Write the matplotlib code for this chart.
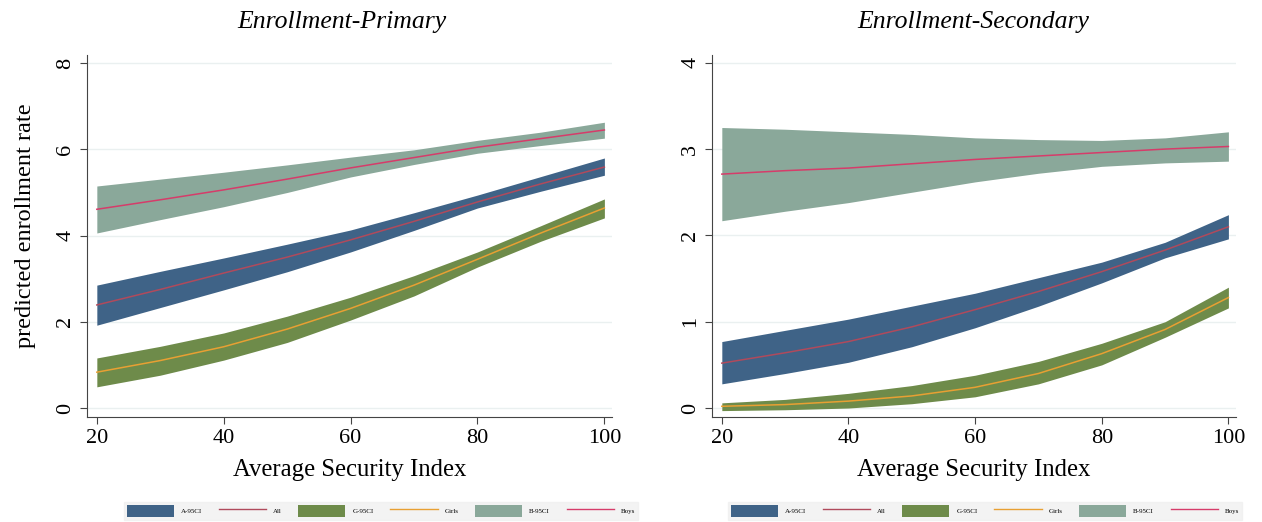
import numpy as np
import matplotlib
matplotlib.use("Agg")
import matplotlib.pyplot as plt
from matplotlib.patches import Patch
from matplotlib.lines import Line2D

plt.rcParams['font.family'] = ['Liberation Serif', 'DejaVu Serif']

# security index grid
x = [20, 30, 40, 50, 60, 70, 80, 90, 100]

# Primary enrollment: predicted values and 95% CI
prim_all = [2.39, 2.75, 3.13, 3.50, 3.90, 4.33, 4.78, 5.20, 5.59]
prim_all_hi = [2.85, 3.17, 3.48, 3.80, 4.13, 4.53, 4.94, 5.37, 5.80]
prim_all_lo = [1.92, 2.33, 2.74, 3.16, 3.62, 4.12, 4.64, 5.03, 5.40]
prim_girls = [0.83, 1.10, 1.42, 1.83, 2.31, 2.85, 3.45, 4.06, 4.64]
prim_girls_hi = [1.16, 1.43, 1.74, 2.13, 2.57, 3.07, 3.62, 4.23, 4.85]
prim_girls_lo = [0.49, 0.76, 1.11, 1.52, 2.04, 2.60, 3.27, 3.87, 4.41]
prim_boys = [4.61, 4.83, 5.06, 5.31, 5.57, 5.81, 6.05, 6.25, 6.45]
prim_boys_hi = [5.15, 5.31, 5.47, 5.64, 5.82, 5.99, 6.21, 6.40, 6.63]
prim_boys_lo = [4.06, 4.37, 4.67, 5.00, 5.36, 5.65, 5.91, 6.09, 6.26]

# Secondary enrollment
sec_all = [0.52, 0.64, 0.77, 0.94, 1.14, 1.35, 1.58, 1.83, 2.10]
sec_all_hi = [0.77, 0.90, 1.03, 1.18, 1.33, 1.51, 1.69, 1.92, 2.24]
sec_all_lo = [0.28, 0.40, 0.53, 0.71, 0.93, 1.18, 1.45, 1.74, 1.96]
sec_girls = [0.02, 0.04, 0.08, 0.14, 0.24, 0.40, 0.63, 0.91, 1.28]
sec_girls_hi = [0.06, 0.10, 0.17, 0.26, 0.38, 0.54, 0.75, 1.00, 1.40]
sec_girls_lo = [-0.03, -0.02, 0.00, 0.05, 0.13, 0.28, 0.50, 0.82, 1.16]
sec_boys = [2.71, 2.75, 2.78, 2.83, 2.88, 2.92, 2.96, 3.00, 3.03]
sec_boys_hi = [3.25, 3.23, 3.20, 3.17, 3.13, 3.11, 3.10, 3.13, 3.20]
sec_boys_lo = [2.17, 2.28, 2.38, 2.50, 2.62, 2.72, 2.80, 2.84, 2.86]

legend_labels = ['A-95CI', 'All', 'G-95CI', 'Girls', 'B-95CI', 'Boys']

c_all = '#3f6387'
c_girls = '#6e8b4a'
c_boys = '#8aa89a'
l_all = '#b04a5c'
l_girls = '#e8a033'
l_boys = '#d63c6a'

W, H = 1262, 522
fig = plt.figure(figsize=(W/100, H/100), dpi=100)
ax1 = fig.add_axes([87/W, 1-417/H, (612-87)/W, (417-55)/H])
ax2 = fig.add_axes([712/W, 1-417/H, (1236-712)/W, (417-55)/H])

panels = [
    (ax1, 'Enrollment-Primary', 342,
     (prim_all, prim_all_lo, prim_all_hi),
     (prim_girls, prim_girls_lo, prim_girls_hi),
     (prim_boys, prim_boys_lo, prim_boys_hi),
     [0, 2, 4, 6, 8], (-0.21, 8.19), 381),
    (ax2, 'Enrollment-Secondary', 973,
     (sec_all, sec_all_lo, sec_all_hi),
     (sec_girls, sec_girls_lo, sec_girls_hi),
     (sec_boys, sec_boys_lo, sec_boys_hi),
     [0, 1, 2, 3, 4], (-0.104, 4.09), 985),
]

for ax, title, tx, a, g, b, yt, ylim, lx in panels:
    for yy in yt:
        ax.axhline(yy, color='#eaf0f0', lw=1, zorder=0)
    ax.fill_between(x, b[1], b[2], color=c_boys, lw=0, zorder=1)
    ax.fill_between(x, a[1], a[2], color=c_all, lw=0, zorder=1)
    ax.fill_between(x, g[1], g[2], color=c_girls, lw=0, zorder=1)
    ax.plot(x, a[0], color=l_all, lw=1.1, zorder=2)
    ax.plot(x, g[0], color=l_girls, lw=1.1, zorder=2)
    ax.plot(x, b[0], color=l_boys, lw=1.1, zorder=2)

    ax.set_xlim(18.45, 101.2)
    ax.set_ylim(*ylim)
    ax.set_xticks([20, 40, 60, 80, 100])
    ax.set_yticks(yt)
    ax.spines['top'].set_visible(False)
    ax.spines['right'].set_visible(False)
    ax.spines['left'].set_color('#444444')
    ax.spines['bottom'].set_color('#444444')
    ax.tick_params(axis='both', direction='out', length=5, color='#444444', labelsize=16)
    ax.tick_params(axis='y', labelrotation=90)
    for lab in ax.get_yticklabels():
        lab.set_verticalalignment('center')
    ax.set_xlabel('Average Security Index', fontsize=17.8, labelpad=8)
    fig.text(tx/W, 1-22/H, title, fontsize=18.5, style='italic',
             ha='center', va='center')

    handles = [Patch(facecolor=c_all), Line2D([], [], color=l_all, lw=1),
               Patch(facecolor=c_girls), Line2D([], [], color=l_girls, lw=1),
               Patch(facecolor=c_boys), Line2D([], [], color=l_boys, lw=1)]
    leg = fig.legend(handles, legend_labels, loc='upper center',
                     bbox_to_anchor=(lx/W, 1-499/H), ncol=6, fontsize=5,
                     handlelength=6.8, handleheight=2.2, columnspacing=2.4,
                     handletextpad=1.0, frameon=True, fancybox=False,
                     borderpad=0.4)
    leg.get_frame().set_facecolor('#f0f0f0')
    leg.get_frame().set_edgecolor('#f0f0f0')

ax1.set_ylabel('predicted enrollment rate', fontsize=17.5)
ax1.yaxis.set_label_coords(-0.097, (417-226)/362)

fig.savefig('out.png', dpi=100)
